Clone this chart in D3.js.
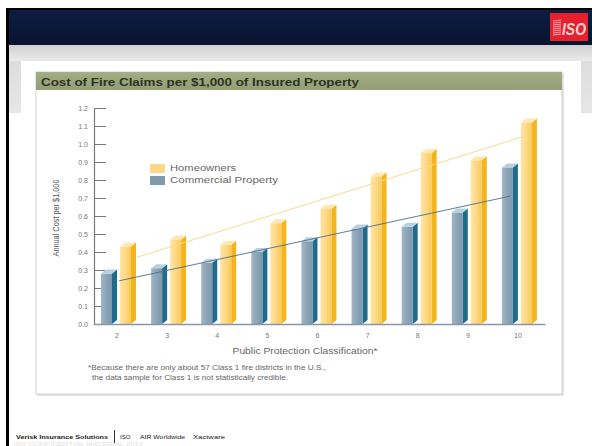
<!DOCTYPE html>
<html><head><meta charset="utf-8">
<script src="https://cdn.jsdelivr.net/npm/d3@7/dist/d3.min.js"></script>
<style>html,body{margin:0;padding:0;background:#fff;}svg{display:block;font-family:"Liberation Sans",Arial,sans-serif;}</style>
</head><body>
<script>
// ---- data ----
const categories = ["2","3","4","5","6","7","8","9","10"];
const seriesNames = ["Commercial Property","Homeowners"];
const commercial = [0.28,0.31,0.34,0.40,0.46,0.53,0.54,0.62,0.87];
const homeowners = [0.43,0.47,0.44,0.56,0.64,0.82,0.95,0.91,1.12];
const yTicks = [0.0,0.1,0.2,0.3,0.4,0.5,0.6,0.7,0.8,0.9,1.0,1.1,1.2];
// trend lines: [class position, value] endpoints
const trendCommercial = [[2.0,0.24],[9.8,0.71]];
const trendHomeowners = [[2.35,0.37],[10.05,1.04]];
const legendItems = ["Homeowners","Commercial Property"];
const chartTitle = "Cost of Fire Claims per $1,000 of Insured Property";
const yTitle = "Annual Cost per $1,000";
const xTitle = "Public Protection Classification*";
const footnote = ["*Because there are only about 57 Class 1 fire districts in the U.S.,",
                  "the data sample for Class 1 is not statistically credible."];

const W=592,H=446;
const svg=d3.select("body").append("svg").attr("width",W).attr("height",H);
const defs=svg.append("defs");
function lg(id,stops,vertical){
  const g=defs.append("linearGradient").attr("id",id).attr("x1",0).attr("y1",0)
    .attr("x2",vertical?0:1).attr("y2",vertical?1:0);
  stops.forEach(s=>g.append("stop").attr("offset",s[0]).attr("stop-color",s[1]));
}
lg("navy",[[0,"#0d1d42"],[1,"#081530"]],true);
lg("grayband",[[0,"#cfcfd0"],[1,"#ebebeb"]],true);
lg("grayside",[[0,"#dadada"],[1,"#e6e6e6"]],true);
lg("cFront",[[0,"#a1b6c6"],[0.5,"#8ca4b7"],[1,"#7c97ab"]],false);
lg("hFront",[[0,"#fee6a4"],[0.5,"#fed886"],[1,"#fcc957"]],false);
lg("titlebar",[[0,"#a3ad86"],[1,"#939e74"]],true);

// ---- slide frame ----
svg.append("rect").attr("x",6).attr("y",8).attr("width",W-6).attr("height",37).attr("fill","url(#navy)");
svg.append("rect").attr("x",6).attr("y",8).attr("width",W-6).attr("height",2).attr("fill","#000");
svg.append("rect").attr("x",6).attr("y",8).attr("width",3).attr("height",H-8).attr("fill","#000");
svg.append("rect").attr("x",9).attr("y",45).attr("width",W-9).attr("height",68).attr("fill","url(#grayside)");
svg.append("rect").attr("x",9).attr("y",45).attr("width",W-9).attr("height",16).attr("fill","url(#grayband)");
svg.append("rect").attr("x",21).attr("y",61).attr("width",560).attr("height",H-61).attr("fill","#fff");
svg.append("rect").attr("x",9).attr("y",113).attr("width",W-9).attr("height",H-113).attr("fill","#fff");

// ISO logo
const logo=svg.append("g");
logo.append("rect").attr("x",550).attr("y",13).attr("width",38).attr("height",28).attr("fill","#e8202e");
for(let i=0;i<8;i++){
  logo.append("line").attr("x1",553).attr("x2",561).attr("y1",21+i*2).attr("y2",20+i*2)
    .attr("stroke","#f6b5b8").attr("stroke-width",0.9);
}
logo.append("text").attr("x",562).attr("y",35).attr("font-size",17).attr("font-weight","bold")
  .attr("font-style","italic").attr("fill","#f9d0d2").attr("textLength",24).attr("lengthAdjust","spacingAndGlyphs").text("ISO");

// ---- chart box ----
svg.append("rect").attr("x",37).attr("y",73).attr("width",527).attr("height",323).attr("fill","#e4e4e4");
svg.append("rect").attr("x",36).attr("y",72).attr("width",526).attr("height",322).attr("fill","#fff")
  .attr("stroke","#d2d2d2").attr("stroke-width",1);
svg.append("rect").attr("x",36).attr("y",72).attr("width",526).attr("height",18).attr("fill","url(#titlebar)");
svg.append("text").attr("x",41).attr("y",85.5).attr("font-size",11).attr("font-weight","bold").attr("fill","#2e3322")
  .attr("textLength",318).attr("lengthAdjust","spacingAndGlyphs").text(chartTitle);

// ---- scales ----
const x0=d3.scaleBand().domain(categories).range([94,545]).paddingInner(0).paddingOuter(0);
const x1=d3.scaleBand().domain(seriesNames).range([7,45]);
const y=d3.scaleLinear().domain([0,1.2]).range([324,108]);
const xc=d3.scaleLinear().domain([2,10]).range([x0("2")+x0.bandwidth()/2, x0("10")+x0.bandwidth()/2]);

// axes
const yAxis=d3.axisRight(y).tickValues(yTicks).tickSize(12).tickFormat(()=>"" );
const ga=svg.append("g").attr("transform","translate(94,0)").call(yAxis);
ga.select(".domain").attr("stroke","#7a7a7a").attr("stroke-width",1.2);
ga.selectAll(".tick line").attr("stroke","#7a7a7a").attr("stroke-width",1);
svg.append("g").selectAll("text").data(yTicks).join("text")
  .attr("x",88).attr("y",d=>y(d)+2.5).attr("text-anchor","end").attr("font-size",7).attr("fill","#777")
  .text(d=>d3.format(".1f")(d));

// bars
const fw=11,d=5,dy=4,base=y(0);
const series=[{name:"Commercial Property",vals:commercial,front:"url(#cFront)",side:"#1f6b8c",cap:"#b9d0de"},
              {name:"Homeowners",vals:homeowners,front:"url(#hFront)",side:"#f4b51c",cap:"#fee9b3"}];
const bars=svg.append("g");
series.forEach(s=>{
  const g=bars.append("g");
  const sel=g.selectAll("g").data(categories.map((c,i)=>({c,v:s.vals[i]}))).join("g");
  sel.append("polygon").attr("fill",s.side).attr("points",p=>{
    const x=x0(p.c)+x1(s.name), t=y(p.v);
    return [[x+fw,t],[x+fw+d,t-dy],[x+fw+d,base-dy],[x+fw,base]].join(" ");});
  sel.append("rect").attr("x",p=>x0(p.c)+x1(s.name)).attr("y",p=>y(p.v)).attr("width",fw)
    .attr("height",p=>base-y(p.v)).attr("fill",s.front);
  sel.append("polygon").attr("fill",s.cap).attr("points",p=>{
    const x=x0(p.c)+x1(s.name), t=y(p.v);
    return [[x,t],[x+d,t-dy],[x+fw+d,t-dy],[x+fw,t]].join(" ");});
});

// trend lines
const line=d3.line().x(p=>xc(p[0])).y(p=>y(p[1]));
svg.append("path").attr("d",line(trendHomeowners)).attr("stroke","#f7dc8e").attr("stroke-width",1).attr("fill","none");
svg.append("path").attr("d",line(trendCommercial)).attr("stroke","#4d6f88").attr("stroke-width",0.9).attr("fill","none");

// x axis
const xAxis=d3.axisBottom(x0).tickSize(0).tickPadding(9);
const gx=svg.append("g").attr("transform",`translate(0,${base})`).call(xAxis);
gx.select(".domain").attr("stroke","#8797a8").attr("stroke-width",1.3);
gx.selectAll(".tick text").attr("font-size",7).attr("fill","#777").attr("font-family","Liberation Sans, Arial");
gx.selectAll(".tick").attr("transform",dd=>`translate(${x0(dd)+x0.bandwidth()/2-2},0)`);

// titles
svg.append("text").attr("transform","translate(59,218) rotate(-90)").attr("text-anchor","middle")
  .attr("font-size",8.5).attr("fill","#555").attr("textLength",77).attr("lengthAdjust","spacingAndGlyphs").text(yTitle);
svg.append("text").attr("x",305).attr("y",354).attr("text-anchor","middle").attr("font-size",9).attr("fill","#666")
  .attr("textLength",145).attr("lengthAdjust","spacingAndGlyphs").text(xTitle);
svg.append("text").attr("x",88).attr("y",370).attr("font-size",7).attr("fill","#666")
  .attr("textLength",238).attr("lengthAdjust","spacingAndGlyphs").text(footnote[0]);
svg.append("text").attr("x",92).attr("y",380).attr("font-size",7).attr("fill","#666")
  .attr("textLength",196).attr("lengthAdjust","spacingAndGlyphs").text(footnote[1]);

// legend
const legColors=["#fed886","#7f9aae"];
const lgd=svg.append("g");
legendItems.forEach((t,i)=>{
  lgd.append("rect").attr("x",150).attr("y",164+i*12).attr("width",15).attr("height",9).attr("fill",legColors[i]);
  lgd.append("text").attr("x",170).attr("y",171+i*12).attr("font-size",8.5).attr("fill","#666")
    .attr("textLength",i===0?66:108).attr("lengthAdjust","spacingAndGlyphs").text(t);
});

// footer
svg.append("text").attr("x",13).attr("y",445.5).attr("font-size",5).attr("fill","#e2e2e2")
  .attr("textLength",130).attr("lengthAdjust","spacingAndGlyphs").text("ISO CONFIDENTIAL MATERIAL 2012");
svg.append("text").attr("x",16).attr("y",439).attr("font-size",6).attr("font-weight","bold").attr("fill","#222")
  .attr("textLength",92).attr("lengthAdjust","spacingAndGlyphs").text("Verisk Insurance Solutions");
svg.append("line").attr("x1",114.5).attr("x2",114.5).attr("y1",430).attr("y2",443).attr("stroke","#333").attr("stroke-width",1);
svg.append("text").attr("x",120).attr("y",439).attr("font-size",6).attr("fill","#222").text("ISO");
svg.append("text").attr("x",140).attr("y",439).attr("font-size",6).attr("fill","#222")
  .attr("textLength",45).attr("lengthAdjust","spacingAndGlyphs").text("AIR Worldwide");
svg.append("text").attr("x",193).attr("y",439).attr("font-size",6).attr("fill","#222")
  .attr("textLength",32).attr("lengthAdjust","spacingAndGlyphs").text("Xactware");
</script>
</body></html>
